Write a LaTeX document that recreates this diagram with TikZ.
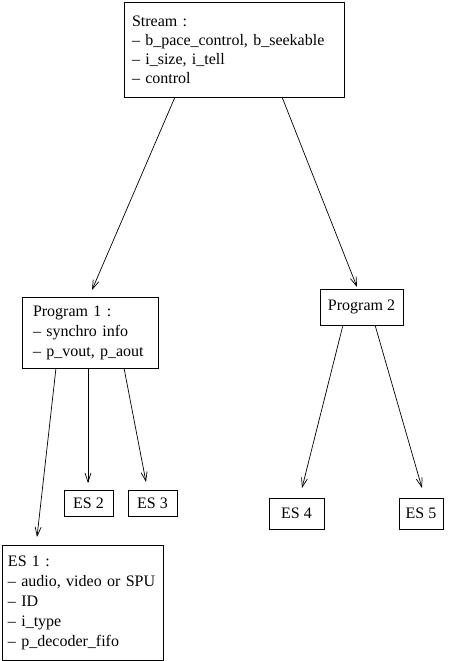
\documentclass[tikz,border=0pt]{standalone}
\usepackage{fontspec}
\setmainfont{Liberation Serif}
\usetikzlibrary{arrows.meta,calc}
\begin{document}
\begin{tikzpicture}[x=1pt,y=-1pt,
  box/.style={draw,line width=0.8pt,anchor=north west,outer sep=0pt,inner ysep=0pt,
    align=left,font=\fontsize{16}{20}\selectfont},
  tag/.style={draw,line width=0.8pt,anchor=north west,outer sep=0pt,inner sep=1pt,
    align=center,font=\fontsize{16}{20}\selectfont},
  link/.style={line width=0.7pt,-{Straight Barb[length=9pt,width=6pt]}}]
\useasboundingbox (0,0) rectangle (449,661);

% stream and its programs
\node[box,inner xsep=8pt,text width=204pt,minimum height=95pt,
  font=\fontsize{16}{19}\selectfont] (stream) at (124,2)
  {Stream :\\– b\_pace\_control, b\_seekable\\– i\_size, i\_tell\\– control};
\node[box,inner xsep=11pt,text width=114pt,minimum height=71pt] (p1) at (22,297)
  {Program 1 :\\– synchro info\\– p\_vout, p\_aout};
\node[tag,minimum width=83pt,minimum height=36pt] (p2) at (320,289) {Program 2};

% elementary streams
\node[box,inner xsep=6pt,text width=149pt,minimum height=115pt] (es1) at (2,545)
  {ES 1 :\\– audio, video or SPU\\– ID\\– i\_type\\– p\_decoder\_fifo};
\node[tag,minimum width=49pt,minimum height=26pt] (es2) at (64,490) {ES 2};
\node[tag,minimum width=49pt,minimum height=26pt] (es3) at (128,490) {ES 3};
\node[tag,minimum width=55pt,minimum height=31pt] (es4) at (269,498) {ES 4};
\node[tag,minimum width=44pt,minimum height=31pt] (es5) at (399,498) {ES 5};

% links
\draw[link] ($(stream.south west)+(51,0)$) -- ($(p1.north west)+(70,-7)$);
\draw[link] ($(stream.south west)+(158,0)$) -- ($(p2.north west)+(37,-2)$);
\draw[link] ($(p1.south west)+(34,0)$) -- ($(es1.north west)+(35,-8)$);
\draw[link] ($(p1.south west)+(66,0)$) -- ($(es2.north west)+(24,-7)$);
\draw[link] ($(p1.south west)+(102,0)$) -- ($(es3.north west)+(18,-8)$);
\draw[link] ($(p2.south west)+(23,0)$) -- ($(es4.north west)+(33,-10)$);
\draw[link] ($(p2.south west)+(55,0)$) -- ($(es5.north west)+(23,-10)$);
\end{tikzpicture}
\end{document}
